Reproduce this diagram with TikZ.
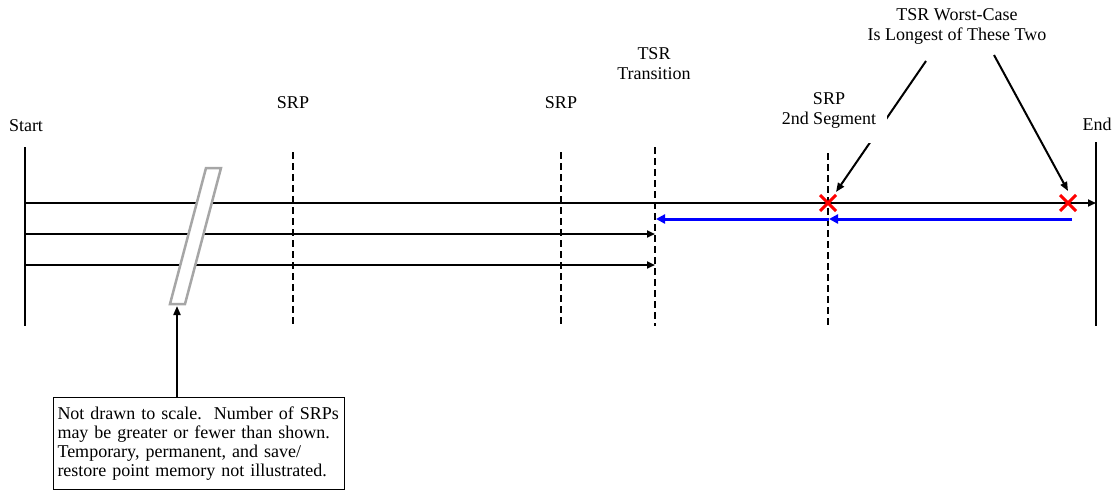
\documentclass[tikz,border=0pt]{standalone}
\usepackage{fontspec}
\setmainfont{Liberation Serif}
\usetikzlibrary{arrows.meta}
\begin{document}
\begin{tikzpicture}[x=1pt,y=-1pt,
  lbl/.style={font=\fontsize{18}{20}\selectfont, align=center, inner sep=1pt, anchor=base},
  solidv/.style={line width=2pt},
  dashv/.style={line width=2pt, dash pattern=on 7pt off 4pt},
  hline/.style={line width=2pt, -{Triangle[length=8pt,width=7pt]}},
  blueline/.style={line width=3pt, blue, -{Triangle[length=9pt,width=9pt]}},
  cross/.style={line width=3pt, red},
  callout/.style={line width=2pt, -{Triangle[length=9pt,width=7pt]}},
  slashbox/.style={draw=black!35, line width=2.5pt, fill=white},
  notebox/.style={draw, line width=1pt, font=\fontsize{18}{19}\selectfont, align=left,
    text width=283pt, inner xsep=4pt, inner ysep=3pt, minimum height=92pt}
]
\useasboundingbox (0,0) rectangle (1117,490);

% vertical lines
\coordinate (s1) at (25,147); \coordinate (s2) at (25,326);
\coordinate (e1) at (1096,142); \coordinate (e2) at (1096,326);
\coordinate (d1a) at (293,152); \coordinate (d1b) at (293,326);
\coordinate (d2a) at (561,152); \coordinate (d2b) at (561,326);
\coordinate (d3a) at (655,147); \coordinate (d3b) at (655,326);
\coordinate (d4a) at (828,153); \coordinate (d4b) at (828,326);
\draw[solidv] (s1) -- (s2);
\draw[solidv] (e1) -- (e2);
\draw[dashv] (d1a) -- (d1b);
\draw[dashv] (d2a) -- (d2b);
\draw[dashv] (d3a) -- (d3b);
\draw[dashv] (d4a) -- (d4b);

% horizontal lines
\coordinate (h1a) at (25,203); \coordinate (h1b) at (1096,203);
\coordinate (h2a) at (25,234); \coordinate (h2b) at (655,234);
\coordinate (h3a) at (25,265); \coordinate (h3b) at (655,265);
\draw[hline] (h1a) -- (h1b);
\draw[hline] (h2a) -- (h2b);
\draw[hline] (h3a) -- (h3b);

% blue return line
\coordinate (b1) at (1072,219); \coordinate (b2) at (829,219); \coordinate (b3) at (656,219);
\draw[blueline] (b1) -- (b2);
\draw[blueline] (b2) -- (b3);

% red crosses
\coordinate (x1) at (828,203); \coordinate (x2) at (1068,203);
\draw[cross] ([shift={(-8,-8)}]x1) -- ([shift={(8,8)}]x1);
\draw[cross] ([shift={(-8,8)}]x1) -- ([shift={(8,-8)}]x1);
\draw[cross] ([shift={(-8,-8)}]x2) -- ([shift={(8,8)}]x2);
\draw[cross] ([shift={(-8,8)}]x2) -- ([shift={(8,-8)}]x2);

% slash (not to scale)
\draw[slashbox] (206,168) -- (221,168) -- (185,304) -- (170,304) -- cycle;

% note box and arrow
\node[notebox, anchor=north west] (note) at (53,397) {Not drawn to scale.\ \ Number of SRPs\\ may be greater or fewer than shown.\\ Temporary, permanent, and save/\\ restore point memory not illustrated.};
\coordinate (slashbot) at (177,306);
\draw[callout] (note.north west -| slashbot) -- (slashbot);

% worst-case callout arrows
\coordinate (w1) at (926,61); \coordinate (w1e) at (836,192);
\coordinate (w2) at (994,55); \coordinate (w2e) at (1068,191);
\draw[callout] (w1) -- (w1e);
\draw[callout] (w2) -- (w2e);

% labels
\node[lbl] (start) at (26,131) {Start};
\node[lbl] (end) at (1097,130) {End};
\node[lbl] (srp1) at (293,108) {SRP};
\node[lbl] (srp2) at (561,108) {SRP};
\node[lbl] (tsr) at (654,79) {TSR\\Transition};
\node[lbl, fill=white, inner xsep=11pt, inner ysep=15pt] (srp3) at (829,124) {SRP\\2nd Segment};
\node[lbl] (wc) at (957,40) {TSR Worst-Case\\Is Longest of These Two};
\end{tikzpicture}
\end{document}
